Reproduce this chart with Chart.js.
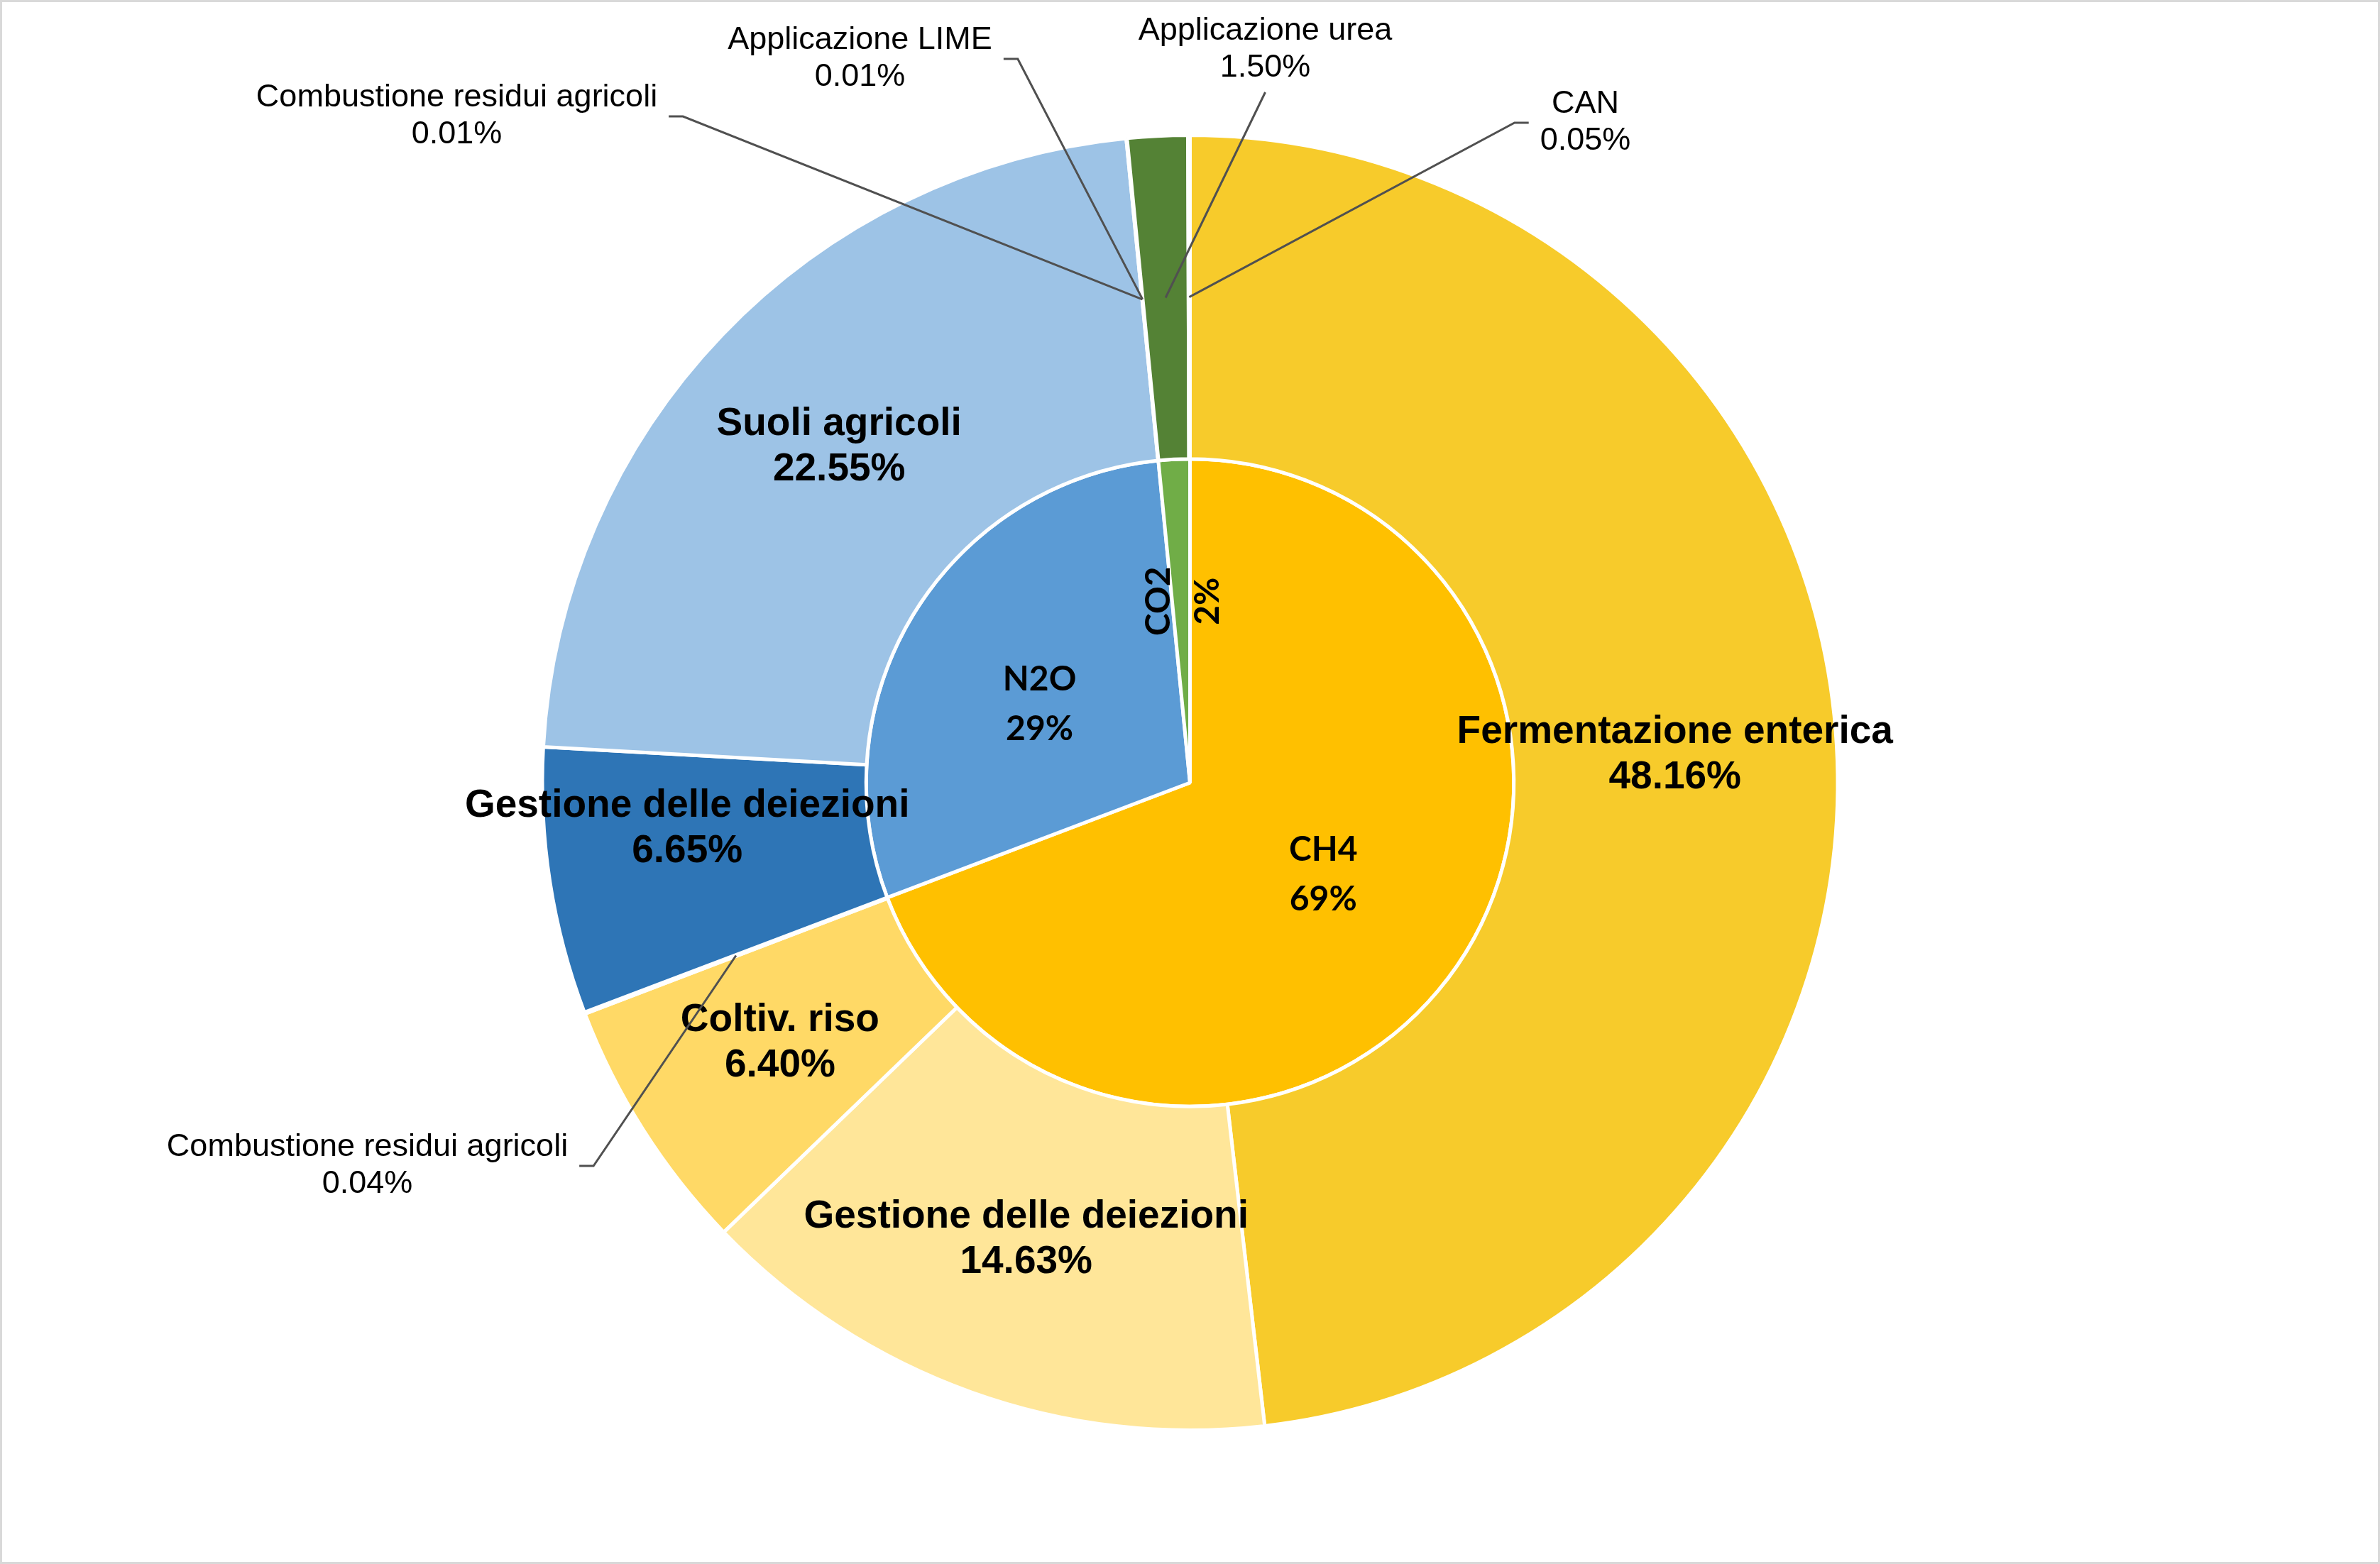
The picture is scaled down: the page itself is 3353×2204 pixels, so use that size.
<!DOCTYPE html>
<html lang="it">
<head>
<meta charset="utf-8">
<title>Emissioni agricoltura</title>
<script src="https://cdn.jsdelivr.net/npm/chart.js"></script>
<style>
  html, body { margin: 0; padding: 0; background: #fff; }
  canvas { display: block; }
</style>
</head>
<body>
<canvas id="emissionChart" width="3353" height="2204"></canvas>
<script>
// anello esterno: categorie (in senso orario dall'alto)
const outerLabels = [
  'Fermentazione enterica',
  'Gestione delle deiezioni',
  'Coltiv. riso',
  'Combustione residui agricoli',
  'Gestione delle deiezioni',
  'Suoli agricoli',
  'Combustione residui agricoli',
  'Applicazione LIME',
  'Applicazione urea',
  'CAN'
];
const outerValues = [48.16, 14.63, 6.40, 0.04, 6.65, 22.55, 0.01, 0.01, 1.50, 0.05];

// anello interno: gas
const innerLabels = ['CH4', 'N2O', 'CO2'];
const innerValues = [69.23, 29.21, 1.56];

const outerColors = ['#F7CB2B', '#FFE699', '#FFD966', '#BF9000', '#2E75B6',
                     '#9DC3E6', '#1F4E79', '#A9D18E', '#548235', '#385723'];
const innerColors = ['#FFC000', '#5B9BD5', '#70AD47'];

// etichette esterne: 'in' = dentro la fetta, altrimenti con linea di richiamo
// dx/dy = spostamento dal centro del grafico per le etichette con richiamo
const outerLabelStyle = [
  { type: 'in' },
  { type: 'in' },
  { type: 'in' },
  { type: 'call', dx: -1159, dy: 540, side: 'right' },
  { type: 'in', dx: -32, dy: -40 },
  { type: 'in' },
  { type: 'call', dx: -1033, dy: -939, side: 'right' },
  { type: 'call', dx: -465, dy: -1020, side: 'right' },
  { type: 'call', dx: 106, dy: -1033, side: 'below' },
  { type: 'call', dx: 557, dy: -930, side: 'left' }
];
const innerLabelOffset = [{ dx: 0, dy: 0 }, { dx: -18, dy: 10 }, { dx: 2, dy: -28 }];

const frameBackground = {
  id: 'frameBackground',
  beforeDraw(chart) {
    const ctx = chart.ctx;
    ctx.save();
    ctx.fillStyle = '#ffffff';
    ctx.fillRect(0, 0, chart.width, chart.height);
    ctx.strokeStyle = '#d9d9d9';
    ctx.lineWidth = 3;
    ctx.strokeRect(1.5, 1.5, chart.width - 3, chart.height - 3);
    ctx.restore();
  }
};

function drawLines(ctx, lines, x, y, gap) {
  const start = y - (gap * (lines.length - 1)) / 2;
  lines.forEach((t, i) => ctx.fillText(t, x, start + i * gap));
}

const sliceLabels = {
  id: 'sliceLabels',
  afterDatasetsDraw(chart) {
    const ctx = chart.ctx;
    const outerMeta = chart.getDatasetMeta(0);
    const innerMeta = chart.getDatasetMeta(1);
    const cx = outerMeta.data[0].x;
    const cy = outerMeta.data[0].y;

    ctx.save();
    ctx.fillStyle = '#000';
    ctx.textAlign = 'center';
    ctx.textBaseline = 'middle';

    // anello esterno
    outerMeta.data.forEach((arc, i) => {
      const st = outerLabelStyle[i];
      const p = arc.tooltipPosition();
      const lines = [outerLabels[i], outerValues[i].toFixed(2) + '%'];
      if (st.type === 'in') {
        ctx.font = 'bold 55px "Liberation Sans", Arial, sans-serif';
        drawLines(ctx, lines, p.x + (st.dx || 0), p.y + (st.dy || 0), 64);
        return;
      }
      ctx.font = '45px "Liberation Sans", Arial, sans-serif';
      const tx = cx + st.dx;
      const ty = cy + st.dy;
      drawLines(ctx, lines, tx, ty, 52);
      const w = Math.max(...lines.map(t => ctx.measureText(t).width));
      ctx.strokeStyle = '#505050';
      ctx.lineWidth = 3;
      ctx.beginPath();
      if (st.side === 'right') {
        ctx.moveTo(tx + w / 2 + 16, ty);
        ctx.lineTo(tx + w / 2 + 36, ty);
      } else if (st.side === 'left') {
        ctx.moveTo(tx - w / 2 - 16, ty);
        ctx.lineTo(tx - w / 2 - 36, ty);
      } else {
        ctx.moveTo(tx, ty + 60);
      }
      ctx.lineTo(p.x, p.y);
      ctx.stroke();
    });

    // anello interno
    ctx.font = 'bold 48px Lato, "Noto Sans", sans-serif';
    innerMeta.data.forEach((arc, i) => {
      const p = arc.tooltipPosition();
      const x = p.x + innerLabelOffset[i].dx;
      const y = p.y + innerLabelOffset[i].dy;
      const lines = [innerLabels[i], Math.round(innerValues[i]) + '%'];
      if (i === 2) {
        // fetta stretta: testo verticale
        ctx.save();
        ctx.translate(x, y);
        ctx.rotate(-Math.PI / 2);
        drawLines(ctx, lines, 0, 0, 69);
        ctx.restore();
      } else {
        drawLines(ctx, lines, x, y, 70);
      }
    });
    ctx.restore();
  }
};

new Chart(document.getElementById('emissionChart'), {
  type: 'pie',
  data: {
    labels: outerLabels,
    datasets: [
      {
        data: outerValues,
        backgroundColor: outerColors,
        borderColor: '#ffffff',
        borderWidth: 5
      },
      {
        data: innerValues,
        backgroundColor: innerColors,
        borderColor: '#ffffff',
        borderWidth: 5
      }
    ]
  },
  options: {
    responsive: false,
    animation: false,
    devicePixelRatio: 1,
    layout: { padding: { top: 188, bottom: 186, left: 0, right: 0 } },
    plugins: {
      legend: { display: false },
      tooltip: { enabled: false }
    }
  },
  plugins: [frameBackground, sliceLabels]
});
</script>
</body>
</html>
